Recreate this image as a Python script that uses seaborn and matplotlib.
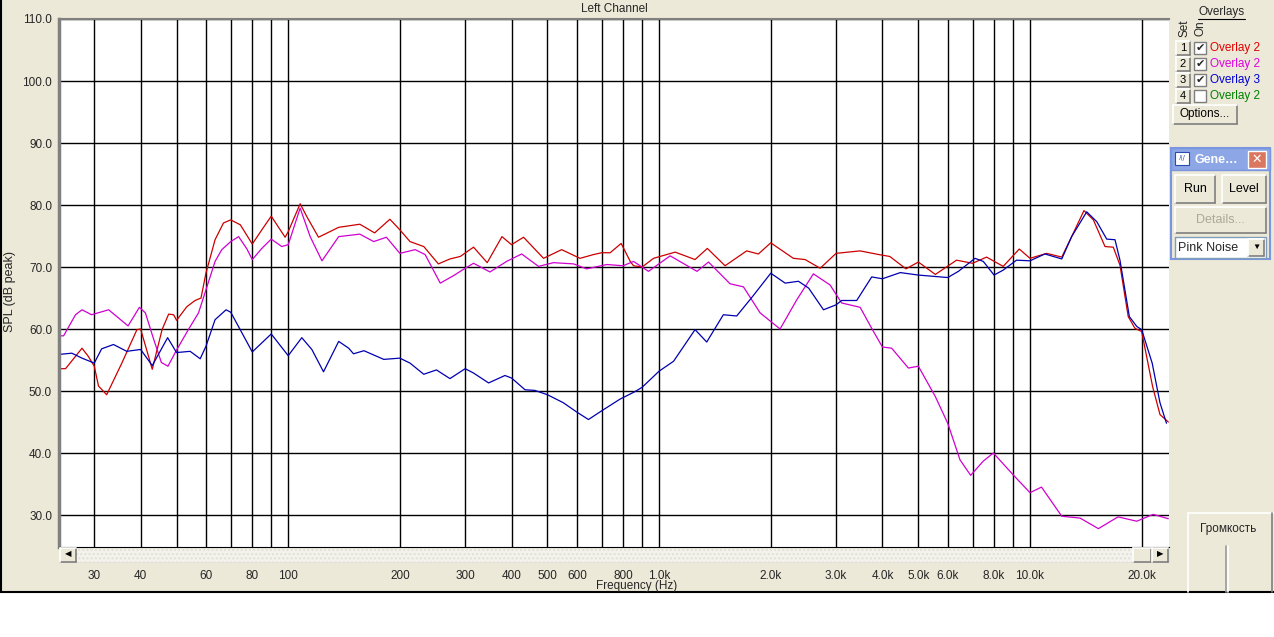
import numpy as np
import matplotlib
matplotlib.use("Agg")
import matplotlib.pyplot as plt
import seaborn as sns
from matplotlib.patches import Rectangle
from matplotlib.lines import Line2D
from matplotlib.ticker import FormatStrFormatter, NullLocator

# --- data (frequency in Hz, level in dB) ---
red_freq = [24.1, 25.1, 27.8, 28.9, 30.0, 30.8, 32.4, 35.6, 39.1, 40.0, 43.0, 45.7, 47.6, 49.1,
            50.0, 53.3, 56.1, 58.2, 60.0, 63.5, 66.9, 70.0, 74.3, 80.0, 84.9, 90.0, 98.1, 100,
            107.7, 112.3, 120.7, 136.8, 156, 171, 188, 200, 213, 232, 254, 273, 291, 316, 344,
            377, 400, 431, 488, 546, 612, 665, 700, 738, 790, 836, 853, 900, 966, 1105, 1250,
            1349, 1506, 1722, 1852, 2000, 2301, 2476, 2718, 3000, 3483, 3917, 4188, 4630, 5000,
            5556, 6339, 7000, 7637, 8467, 9355, 10000, 11090, 12180, 12950, 13980, 14820, 15930,
            16770, 17480, 18400, 19190, 20000, 21410, 22410, 23600]
red_db = [53.6, 53.6, 56.9, 55.6, 54.0, 50.8, 49.4, 54.5, 59.9, 60.0, 53.5, 59.9, 62.4, 62.3,
          61.4, 63.6, 64.6, 65.0, 69.0, 74.4, 77.1, 77.6, 76.8, 73.7, 76.0, 78.2, 74.8, 75.7,
          80.2, 78.1, 74.8, 76.4, 76.9, 75.5, 77.7, 76.0, 74.1, 73.3, 70.5, 71.3, 71.7, 73.2, 70.7,
          74.9, 73.6, 74.8, 71.4, 72.8, 71.4, 72.0, 72.3, 72.3, 73.8, 70.9, 70.2, 70.0, 71.4, 72.4, 71.2,
          73.0, 70.2, 72.6, 72.1, 73.9, 71.4, 71.2, 69.8, 72.2, 72.6, 72.0, 71.7, 69.7, 70.8,
          68.8, 71.1, 70.6, 71.6, 70.1, 72.9, 71.4, 72.2, 71.6, 74.9, 79.1, 77.6, 73.3,
          73.2, 70.3, 62.0, 60.1, 59.6, 50.7, 46.2, 45.0]

magenta_freq = [24.1, 24.8, 26.7, 27.8, 29.5, 32.8, 37.0, 39.7, 41.2, 43.4, 45.5, 47.4, 50.1, 53.8,
                57.3, 60, 63.5, 66.2, 70, 73.5, 77.4, 80, 84.9, 90, 96.1, 100, 107.7, 114.6, 123.3,
                136.8, 156, 170, 184, 200, 220, 234, 257, 279, 300, 316, 350, 388, 426, 473, 519,
                588, 638, 723, 800, 853, 889, 936, 1071, 1265, 1359, 1553, 1688, 1872, 2119, 2350,
                2606, 2890, 3106, 3483, 3784, 4000, 4237, 4700, 5000, 5556, 6000, 6475, 6918, 7483,
                7965, 9000, 10000, 10740, 12180, 13650, 15290, 17270, 19400, 21480, 23600]
magenta_db = [58.9, 58.9, 62.3, 63.1, 62.3, 63.1, 60.5, 63.5, 62.6, 58.3, 54.6, 54.0, 56.7, 59.9,
              62.6, 66.3, 70.9, 72.8, 74.1, 74.9, 72.9, 71.2, 73.0, 74.5, 73.3, 73.6, 79.5, 74.9, 71.0,
              74.9, 75.3, 74.1, 74.8, 72.2, 72.8, 72.0, 67.4, 68.6, 69.8, 70.6, 69.2, 70.9, 72.1, 70.1, 70.7,
              70.5, 69.7, 70.4, 70.2, 70.9, 70.2, 69.3, 71.8, 69.3, 70.8, 67.3, 66.8, 62.6, 60.0, 64.7,
              68.9, 67.1, 64.2, 63.5, 59.6, 57.1, 56.9, 53.7, 54.0, 49.1, 44.8, 38.9, 36.4, 38.7,
              40.0, 36.5, 33.6, 34.5, 29.8, 29.5, 27.8, 29.7, 29.0, 30.1, 29.4]

blue_freq = [24.1, 26.1, 27.8, 30, 31.4, 33.8, 36.7, 40, 43, 47.3, 50, 54.4, 57.9, 60, 63.5, 68,
             70, 75, 80, 90, 100, 108.8, 115.8, 124.5, 136.8, 145.6, 150, 160, 181, 200, 213, 232,
             251, 273, 300, 316, 347, 384, 400, 435, 462, 500, 552, 600, 645, 700, 785, 861, 900, 1000,
             1094, 1250, 1344, 1490, 1619, 1795, 2000, 2187, 2375, 2530, 2775, 3000, 3106, 3410,
             3743, 4000, 4470, 5000, 6000, 6412, 7107, 7483, 8000, 8467, 9197, 10000, 10970, 12180,
             12950, 14220, 15140, 16100, 16950, 17480, 18530, 19410, 20000, 21350, 22410, 23330]
blue_db = [55.9, 56.1, 55.3, 54.5, 56.8, 57.5, 56.4, 56.7, 54.1, 58.6, 56.2, 56.4, 55.2, 57.2, 61.5, 63.1,
           62.7, 59.4, 56.3, 59.2, 55.7, 58.6, 56.7, 53.1, 58.0, 56.9, 56.0, 56.5, 55.1, 55.3, 54.5, 52.7,
           53.4, 52.0, 53.6, 52.9, 51.3, 52.5, 52.1, 50.2, 50.1, 49.4, 48.1, 46.6, 45.4, 46.8, 48.7, 49.9, 50.6, 53.2,
           54.8, 59.9, 57.9, 62.3, 62.1, 65.4, 69.0, 67.4, 67.7, 66.6, 63.1, 63.9, 64.6, 64.6,
           68.4, 68.1, 69.1, 68.7, 68.3, 69.3, 71.4, 70.9, 68.7, 69.5, 71.1, 71.0, 72.1, 71.3,
           74.9, 78.9, 77.3, 74.5, 74.4, 71.1, 62.0, 60.4, 59.9, 54.5, 48.1, 44.8]

grid_freqs = [30, 40, 50, 60, 70, 80, 90,
              100, 200, 300, 400, 500, 600, 700, 800, 900,
              1000, 2000, 3000, 4000, 5000, 6000, 7000, 8000, 9000,
              10000, 20000]
freq_labels = ["30", "40", "", "60", "", "80", "",
               "100", "200", "300", "400", "500", "600", "", "800", "",
               "1.0k", "2.0k", "3.0k", "4.0k", "5.0k", "6.0k", "", "8.0k", "",
               "10.0k", "20.0k"]
db_ticks = [30, 40, 50, 60, 70, 80, 90, 100, 110]

overlay_names = ["Overlay 2", "Overlay 2", "Overlay 3", "Overlay 2"]
overlay_colors = ["#E00000", "#E000E0", "#0000D0", "#008000"]
overlay_on = [True, True, True, False]

sns.set_style("white")
plt.rcParams["font.family"] = ["Liberation Sans", "DejaVu Sans"]
plt.rcParams["font.size"] = 8

W, H = 1274, 637
BEIGE = "#ECE9D8"
fig = plt.figure(figsize=(W / 100, H / 100), dpi=100, facecolor=BEIGE)


def box(x, y, w, h):
    return [x / W, 1 - (y + h) / H, w / W, h / H]


def rect(x, y, w, h, fc, ec="none", lw=1, z=1, **kw):
    fig.add_artist(Rectangle((x / W, 1 - (y + h) / H), w / W, h / H, transform=fig.transFigure,
                             facecolor=fc, edgecolor=ec, lw=lw, zorder=z, **kw))


def line(x0, y0, x1, y1, color="black", lw=1, z=2):
    fig.add_artist(Line2D([x0 / W, x1 / W], [1 - y0 / H, 1 - y1 / H], transform=fig.transFigure,
                          color=color, lw=lw, zorder=z))


def txt(x, y, s, **kw):
    kw.setdefault("ha", "center")
    kw.setdefault("va", "center")
    kw.setdefault("fontsize", 8)
    fig.text(x / W, 1 - y / H, s, **kw)


def button(x, y, w, h, label="", color="black", fs=8.5):
    rect(x, y, w, h, BEIGE, z=2)
    line(x, y + h, x + w, y + h, "#7F7F7F", 1.2, 3)
    line(x + w, y, x + w, y + h, "#7F7F7F", 1.2, 3)
    line(x, y, x + w, y, "white", 1.2, 3)
    line(x, y, x, y + h, "white", 1.2, 3)
    if label:
        txt(x + w / 2, y + h / 2, label, color=color, fontsize=fs)


# white strip under the window and window borders
rect(0, 593, W, H - 593, "white", z=0)
line(0, 592, W, 592, "black", 1.5)
line(0.5, 0, 0.5, 592, "black", 1.5)

# --- main plot ---
ax = fig.add_axes(box(59, 19, 1110, 528))
ax.set_facecolor("white")
ax.set_xscale("log")
sns.lineplot(x=red_freq, y=red_db, ax=ax, color="#CC0000", lw=0.9, sort=False, estimator=None)
sns.lineplot(x=magenta_freq, y=magenta_db, ax=ax, color="#D000D0", lw=0.9, sort=False, estimator=None)
sns.lineplot(x=blue_freq, y=blue_db, ax=ax, color="#0000B0", lw=0.9, sort=False, estimator=None)
ax.set_xlim(24.1, 23700)
ax.set_ylim(24.84, 110)
ax.set_xticks(grid_freqs)
ax.xaxis.set_minor_locator(NullLocator())
ax.set_yticks(db_ticks)
ax.yaxis.set_major_formatter(FormatStrFormatter("%.1f"))
ax.grid(True, which="major", color="black", lw=1)
ax.set_axisbelow(True)
ax.tick_params(axis="x", length=0, labelbottom=False)
ax.tick_params(axis="y", length=0, pad=5, labelsize=8.5)
ax.set_xlabel("")
ax.set_ylabel("")
ax.spines["top"].set_color("#808080")
ax.spines["top"].set_linewidth(1.5)
ax.spines["left"].set_color("#808080")
ax.spines["left"].set_linewidth(2.5)
ax.spines["right"].set_visible(False)
ax.spines["bottom"].set_color("black")

# frequency ticks below the scrollbar
tax = fig.add_axes(box(59, 562, 1110, 1))
tax.set_xscale("log")
tax.set_xlim(24.1, 23700)
tax.set_xticks(grid_freqs, freq_labels)
tax.xaxis.set_minor_locator(NullLocator())
tax.tick_params(axis="x", direction="out", length=3, width=1, pad=2, labelsize=8.5)
tax.set_yticks([])
tax.patch.set_visible(False)
for s in tax.spines.values():
    s.set_visible(False)

txt(637, 586, "Frequency (Hz)", fontsize=8.5)
txt(614, 9, "Left Channel", fontsize=8.5)
txt(10, 292, "SPL (dB peak)", rotation=90, fontsize=9)

# scrollbar
rect(59, 548, 1110, 14, "#F3F2EC", ec="#E2E0D6", lw=0.5, hatch="....", z=1)
button(60, 548, 16, 14, "◀", fs=6)
button(1133, 548, 18, 14)
button(1152, 548, 16, 14, "▶", fs=6)

# --- right panel: overlays ---
txt(1222, 12, "Overlays", fontsize=8.5)
line(1198, 19, 1245, 19, "black", 0.8)
txt(1185, 28, "Set", rotation=90, fontsize=8.5)
txt(1200, 28, "On", rotation=90, fontsize=8.5)
for i, (name, col, on) in enumerate(zip(overlay_names, overlay_colors, overlay_on)):
    yc = 48 + 16 * i
    button(1176, yc - 7, 14, 14, str(i + 1), fs=8)
    rect(1194, yc - 6, 12, 12, "white", ec="#7F7F7F", lw=1, z=2)
    if on:
        txt(1200, yc, "✔", fontsize=8, family="DejaVu Sans")
    txt(1210, yc, name, color=col, ha="left", fontsize=8.5)
button(1173, 105, 64, 19, "Options...", fs=8.5)

# generator window
rect(1171, 148, 99, 111, BEIGE, ec="#7A96DF", lw=1.5, z=1)
rect(1171, 148, 99, 22, "#8CA6E6", ec="#7A96DF", lw=1, z=2)
rect(1175, 152, 14, 13, "white", ec="#2A4CAA", lw=0.8, z=3)
txt(1182, 158, "⁄\\/", fontsize=5, color="#2A4CAA", family="DejaVu Sans")
txt(1216, 160, "Gene…", color="white", fontsize=9, fontweight="bold")
rect(1248, 151, 18, 17, "#D9785F", ec="white", lw=1, z=3)
txt(1257, 159.5, "✕", color="white", fontsize=9, family="DejaVu Sans")
button(1175, 175, 40, 28, "Run", fs=9)
button(1222, 175, 44, 28, "Level", fs=9)
button(1175, 207, 91, 26, "Details...", color="#ACA899", fs=9)
rect(1175, 237, 91, 21, "white", ec="#7F9DB9", lw=1, z=2)
txt(1178, 248, "Pink Noise", ha="left", fontsize=9)
button(1248, 239, 16, 17, "▼", fs=6)

# volume box
rect(1188, 513, 86, 79, BEIGE, z=1)
line(1188, 513, 1188, 592, "white", 1.2)
line(1188, 513, 1274, 513, "white", 1.2)
line(1272, 513, 1272, 592, "#7F7F7F", 1.2)
txt(1228, 529, "Громкость", fontsize=8.5)
line(1226, 546, 1226, 592, "#9A9A9A", 1.2)
line(1228, 546, 1228, 592, "white", 1.2)

fig.savefig("out.png", dpi=100, facecolor=BEIGE)
